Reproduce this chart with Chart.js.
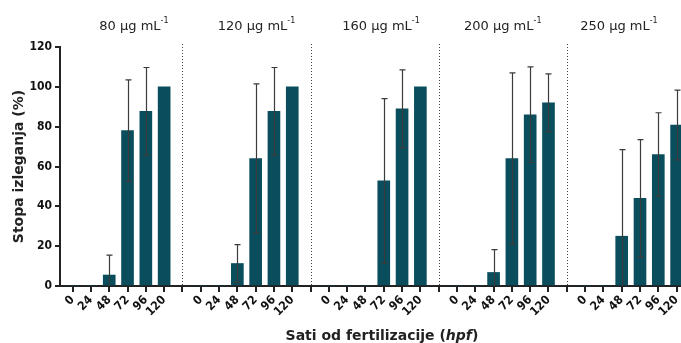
<!DOCTYPE html>
<html>
<head>
<meta charset="utf-8">
<script src="https://cdn.jsdelivr.net/npm/chart.js@4.4.0/dist/chart.umd.min.js"></script>
<style>
  html, body { margin: 0; padding: 0; background: #fff; overflow: hidden; }
</style>
</head>
<body>
<canvas id="chart" width="681" height="343"></canvas>
<script>
// Hatching rate per dose, hours post fertilisation
const hours = ['0', '24', '48', '72', '96', '120'];
const doses = ['80', '120', '160', '200', '250'];
const yTicks = [0, 20, 40, 60, 80, 100, 120];

const mean80 = [0, 0, 5.5, 78, 87.7, 100];
const sd80 = [0, 0, 10, 25.5, 22, 0];
const mean120 = [0, 0, 11.3, 64, 87.7, 100];
const sd120 = [0, 0, 9.5, 37.5, 22, 0];
const mean160 = [0, 0, 0, 52.8, 89, 100];
const sd160 = [0, 0, 0, 41.3, 19.5, 0];
const mean200 = [0, 0, 6.8, 64, 86, 92];
const sd200 = [0, 0, 11.5, 43, 24, 14.5];
const mean250 = [0, 0, 25, 44, 66, 80.8];
const sd250 = [0, 0, 43.5, 29.5, 21, 17.5];

const means = [mean80, mean120, mean160, mean200, mean250];
const sds = [sd80, sd120, sd160, sd200, sd250];

// group title centres, in x-axis units
const titleCentres = [3.35, 10.05, 16.85, 23.5, 29.85];

const slot = hours.length + 1;   // 6 bars + 1 empty slot for the dotted divider
const BAR = '#0a4e5e';
const condensed = '"DejaVu Sans Condensed", "Liberation Sans Narrow", "Roboto Condensed", sans-serif';

const points = [];
const errs = [];
means.forEach((g, gi) => {
	g.forEach((v, hi) => {
		points.push({ x: gi * slot + hi, y: v });
		errs.push(sds[gi][hi]);
	});
});
const lastX = (doses.length - 1) * slot + hours.length - 1;

// dotted dividers between dose groups
const dividers = {
	id: 'dividers',
	beforeDatasetsDraw(chart) {
		const { ctx, chartArea, scales } = chart;
		ctx.save();
		ctx.strokeStyle = '#444';
		ctx.lineWidth = 1;
		ctx.setLineDash([1, 2]);
		for (let gi = 1; gi < doses.length; gi++) {
			const x = Math.round(scales.x.getPixelForValue(gi * slot - 1)) + 0.5;
			ctx.beginPath();
			ctx.moveTo(x, chartArea.top - 3);
			ctx.lineTo(x, chartArea.bottom);
			ctx.stroke();
		}
		ctx.restore();
	}
};

// SD whiskers
const errorBars = {
	id: 'errorBars',
	afterDatasetsDraw(chart) {
		const { ctx, scales } = chart;
		ctx.save();
		ctx.strokeStyle = '#3b3b3b';
		ctx.lineWidth = 1.2;
		points.forEach((p, i) => {
			const sd = errs[i];
			if (!sd) return;
			const x = Math.round(scales.x.getPixelForValue(p.x)) + 0.5;
			const yTop = scales.y.getPixelForValue(p.y + sd);
			const lo = p.y - sd;
			const yLow = scales.y.getPixelForValue(Math.max(lo, 0));
			ctx.beginPath();
			ctx.moveTo(x, yTop);
			ctx.lineTo(x, yLow);
			ctx.moveTo(x - 3, yTop);
			ctx.lineTo(x + 3, yTop);
			if (lo > 0) {
				ctx.moveTo(x - 3, yLow);
				ctx.lineTo(x + 3, yLow);
			}
			ctx.stroke();
		});
		ctx.restore();
	}
};

// dose titles and x-axis title (with italic "hpf")
const labels = {
	id: 'labels',
	afterDraw(chart) {
		const { ctx, scales } = chart;
		ctx.save();
		ctx.fillStyle = '#222';
		ctx.textBaseline = 'alphabetic';
		const big = '13px "DejaVu Sans", sans-serif';
		const small = '8px "DejaVu Sans", sans-serif';
		doses.forEach((d, gi) => {
			const main = d + ' \u00b5g mL';
			const sup = '-1';
			ctx.font = big;
			const w1 = ctx.measureText(main).width;
			ctx.font = small;
			const w2 = ctx.measureText(sup).width;
			const cx = scales.x.getPixelForValue(titleCentres[gi]);
			const x0 = cx - (w1 + w2) / 2;
			ctx.font = big;
			ctx.fillText(main, x0, 30);
			ctx.font = small;
			ctx.fillText(sup, x0 + w1, 23);
		});

		const parts = [
			['Sati od fertilizacije (', 'bold 14px "DejaVu Sans", sans-serif'],
			['hpf', 'italic bold 14px "DejaVu Sans", sans-serif'],
			[')', 'bold 14px "DejaVu Sans", sans-serif']
		];
		let total = 0;
		parts.forEach(p => { ctx.font = p[1]; total += ctx.measureText(p[0]).width; });
		let x = scales.x.getPixelForValue(16.9) - total / 2;
		parts.forEach(p => {
			ctx.font = p[1];
			ctx.fillText(p[0], x, 340);
			x += ctx.measureText(p[0]).width;
		});
		ctx.restore();
	}
};

new Chart(document.getElementById('chart'), {
	type: 'bar',
	data: {
		datasets: [{
			data: points,
			backgroundColor: BAR,
			borderWidth: 0,
			barThickness: 12
		}]
	},
	options: {
		responsive: false,
		animation: false,
		layout: { padding: { top: 47, right: 0, bottom: 0, left: 0 } },
		plugins: {
			legend: { display: false },
			tooltip: { enabled: false }
		},
		scales: {
			x: {
				type: 'linear',
				offset: false,
				min: -0.69,
				max: lastX + 0.24,
				afterBuildTicks(scale) {
					const t = [];
					for (let i = 0; i <= lastX; i++) t.push({ value: i });
					scale.ticks = t;
				},
				afterFit(scale) {
					scale.height = 57;
					scale.paddingLeft = 0;
					scale.paddingRight = 0;
				},
				grid: { offset: false, drawOnChartArea: false, drawTicks: true, tickLength: 6, color: '#222', lineWidth: 2 },
				border: { display: true, color: '#222', width: 2 },
				ticks: {
					autoSkip: false,
					maxRotation: 45,
					minRotation: 45,
					padding: 1,
					color: '#111',
					font: { family: condensed, weight: 'bold', size: 12 },
					callback(value) {
						const i = Math.round(value) % slot;
						return i < hours.length ? hours[i] : '';
					}
				}
			},
			y: {
				min: 0,
				max: 120,
				afterBuildTicks(scale) { scale.ticks = yTicks.map(v => ({ value: v })); },
				afterFit(scale) {
					scale.width = 60;
					scale.paddingTop = 0;
					scale.paddingBottom = 0;
				},
				grid: { drawOnChartArea: false, drawTicks: true, tickLength: 5, color: '#222', lineWidth: 2 },
				border: { display: true, color: '#222', width: 2 },
				ticks: { color: '#111', padding: 3, font: { family: condensed, weight: 'bold', size: 12 } },
				title: {
					display: true,
					text: 'Stopa izleganja (%)',
					color: '#222',
					padding: { top: 11, bottom: 0 },
					font: { family: '"DejaVu Sans", sans-serif', weight: 'bold', size: 14 }
				}
			}
		}
	},
	plugins: [dividers, errorBars, labels]
});
</script>
</body>
</html>
